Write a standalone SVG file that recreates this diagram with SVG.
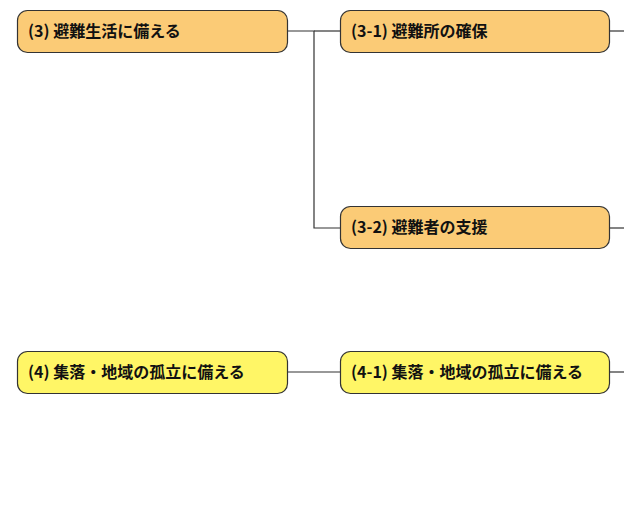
<svg xmlns="http://www.w3.org/2000/svg" width="624" height="515" viewBox="0 0 624 515">
<defs>
<style>
.box{stroke:#333;stroke-width:1.2}
.o{fill:#FBCB76}
.y{fill:#FFF666}
.t{font-family:"Noto Sans CJK JP","Noto Sans CJK SC",sans-serif;font-weight:bold;font-size:16px;fill:#111}
.c{fill:none;stroke:#333;stroke-width:1.2}
</style>
</defs>
<rect width="624" height="515" fill="#fff"/>
<g id="connectors">
<path class="c" d="M287,31 H314 V228 H340"/>
<path class="c" d="M314,31 H340"/>
<path class="c" d="M610,31 H624"/>
<path class="c" d="M610,228 H624"/>
<path class="c" d="M287,372 H340"/>
<path class="c" d="M610,372 H624"/>
</g>
<g id="n3">
<rect class="box o" x="17.5" y="10.5" width="270" height="42" rx="10"/>
<text class="t" x="28" y="37">(3) 避難生活に備える</text>
</g>
<g id="n3-1">
<rect class="box o" x="340.5" y="10.5" width="269" height="42" rx="10"/>
<text class="t" x="351" y="37">(3-1) 避難所の確保</text>
</g>
<g id="n3-2">
<rect class="box o" x="340.5" y="206.5" width="269" height="42" rx="10"/>
<text class="t" x="351" y="233">(3-2) 避難者の支援</text>
</g>
<g id="n4">
<rect class="box y" x="17.5" y="351.5" width="270" height="42" rx="10"/>
<text class="t" x="28" y="378">(4) 集落・地域の孤立に備える</text>
</g>
<g id="n4-1">
<rect class="box y" x="340.5" y="351.5" width="269" height="42" rx="10"/>
<text class="t" x="351" y="378">(4-1) 集落・地域の孤立に備える</text>
</g>
</svg>
